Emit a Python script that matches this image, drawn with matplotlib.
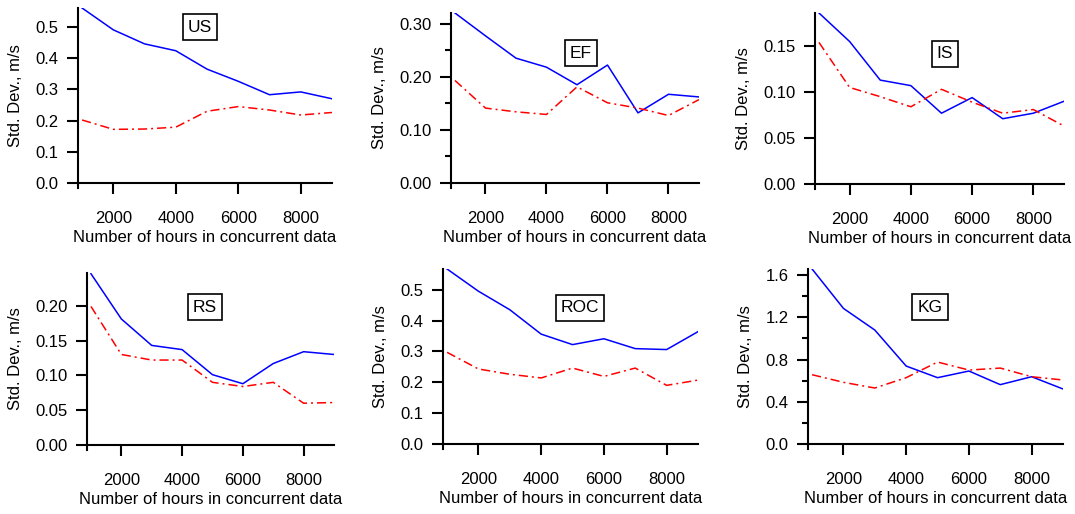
import numpy as np
import matplotlib
matplotlib.use('Agg')
import matplotlib.pyplot as plt
from matplotlib.ticker import MultipleLocator, FormatStrFormatter

plt.rcParams['font.family'] = ['Liberation Sans', 'DejaVu Sans']
plt.rcParams['font.size'] = 12

hours = [1000, 2000, 3000, 4000, 5000, 6000, 7000, 8000, 9000]

sites = ['US', 'EF', 'IS', 'RS', 'ROC', 'KG']

# blue solid series
us_blue = [0.561, 0.491, 0.446, 0.424, 0.365, 0.326, 0.283, 0.292, 0.270]
ef_blue = [0.320, 0.277, 0.235, 0.218, 0.185, 0.222, 0.132, 0.167, 0.162]
is_blue = [0.186, 0.155, 0.113, 0.107, 0.077, 0.094, 0.071, 0.077, 0.090]
rs_blue = [0.246, 0.181, 0.143, 0.137, 0.101, 0.088, 0.117, 0.134, 0.130]
roc_blue = [0.567, 0.495, 0.435, 0.356, 0.322, 0.341, 0.309, 0.306, 0.364]
kg_blue = [1.657, 1.284, 1.079, 0.738, 0.628, 0.691, 0.562, 0.637, 0.521]

# red dash-dot series
us_red = [0.202, 0.172, 0.173, 0.179, 0.230, 0.245, 0.234, 0.218, 0.226]
ef_red = [0.193, 0.141, 0.134, 0.129, 0.181, 0.151, 0.141, 0.127, 0.157]
is_red = [0.154, 0.105, 0.095, 0.084, 0.103, 0.089, 0.077, 0.081, 0.063]
rs_red = [0.199, 0.130, 0.122, 0.122, 0.090, 0.084, 0.090, 0.060, 0.061]
roc_red = [0.297, 0.243, 0.226, 0.214, 0.246, 0.219, 0.246, 0.190, 0.207]
kg_red = [0.656, 0.584, 0.530, 0.628, 0.776, 0.700, 0.719, 0.637, 0.606]

blues = [us_blue, ef_blue, is_blue, rs_blue, roc_blue, kg_blue]
reds = [us_red, ef_red, is_red, rs_red, roc_red, kg_red]

# y axis settings per panel: top, major step, minor step, format
y_tops = [0.561, 0.320, 0.186, 0.247, 0.567, 1.657]
y_major = [0.1, 0.1, 0.05, 0.05, 0.1, 0.4]
y_minor = [None, 0.05, None, None, None, 0.2]
y_fmt = ['%.1f', '%.2f', '%.2f', '%.2f', '%.1f', '%.1f']

W, H = 1075, 514
# axes boxes in pixels: left, top, right, bottom
boxes = [(78, 8, 332, 183), (451, 13, 699, 183), (815, 13, 1064, 184),
         (87, 273, 334, 445), (443, 269, 698, 444), (808, 269, 1063, 444)]
# label box centers in pixels
tags = [(200, 27), (581, 53), (945, 54), (205, 307), (580, 308), (930, 307)]

fig = plt.figure(figsize=(W / 100, H / 100), dpi=100)

for i in range(6):
    l, t, r, b = boxes[i]
    ax = fig.add_axes([l / W, 1 - b / H, (r - l) / W, (b - t) / H])
    ax.plot(hours, blues[i], color='#0000ff', lw=1.1)
    ax.plot(hours, reds[i], color='#ff0000', lw=1.1, linestyle=(0, (6, 2.6, 1.3, 2.6)))
    ax.set_xlim(870, 9000)
    ax.set_ylim(0, y_tops[i])
    ax.xaxis.set_major_locator(MultipleLocator(2000))
    ax.yaxis.set_major_locator(MultipleLocator(y_major[i]))
    if y_minor[i]:
        ax.yaxis.set_minor_locator(MultipleLocator(y_minor[i]))
    ax.yaxis.set_major_formatter(FormatStrFormatter(y_fmt[i]))
    for s in ['top', 'right']:
        ax.spines[s].set_visible(False)
    for s in ['left', 'bottom']:
        ax.spines[s].set_linewidth(1.5)
    ax.spines['left'].set_bounds(-0.03 * y_tops[i], y_tops[i])
    ax.tick_params(which='major', direction='out', width=1.5, length=8)
    ax.tick_params(which='minor', direction='out', width=1.5, length=4.3)
    ax.tick_params(axis='y', pad=6)
    ax.tick_params(axis='x', pad=12)
    ax.set_xlabel('Number of hours in concurrent data', labelpad=3)
    ax.set_ylabel('Std. Dev., m/s', labelpad=9)
    ax.set_facecolor('none')
    tx, ty = tags[i]
    fig.text(tx / W, 1 - ty / H, sites[i], ha='center', va='center', fontsize=12.5,
             bbox=dict(boxstyle='square,pad=0.3', fc='white', ec='black', lw=1.2))

fig.savefig('out.png', dpi=100)
